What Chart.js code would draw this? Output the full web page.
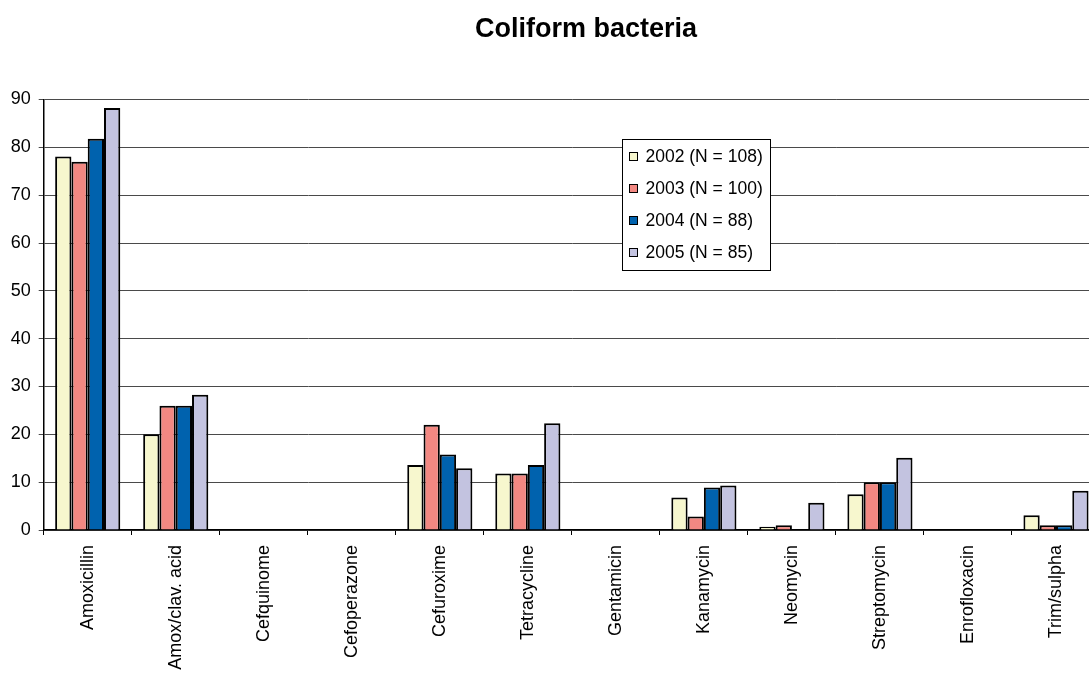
<!DOCTYPE html>
<html>
<head>
<meta charset="utf-8">
<script src="https://cdn.jsdelivr.net/npm/chart.js@4/dist/chart.umd.min.js"></script>
<style>
  html, body { margin: 0; padding: 0; overflow: hidden; background: #fff; }
  #wrap { position: relative; width: 1100px; height: 675px; }
</style>
</head>
<body>
<div id="wrap"><canvas id="c" width="1100" height="675"></canvas></div>
<script>
// Antibiotics tested
const antibiotics = ['Amoxicillin', 'Amox/clav. acid', 'Cefquinome', 'Cefoperazone', 'Cefuroxime',
  'Tetracycline', 'Gentamicin', 'Kanamycin', 'Neomycin', 'Streptomycin', 'Enrofloxacin', 'Trim/sulpha'];

// Resistance (%) per year
const res2002 = [78.1, 20.0, 0, 0, 13.6, 11.8, 0, 6.8, 0.7, 7.5, 0, 3.1];
const res2003 = [77.0, 26.0, 0, 0, 22.0, 11.8, 0, 2.8, 1.0, 10.0, 0, 1.0];
const res2004 = [81.8, 26.0, 0, 0, 15.8, 13.6, 0, 8.9, 0, 10.0, 0, 1.0];
const res2005 = [88.2, 28.3, 0, 0, 12.9, 22.3, 0, 9.3, 5.7, 15.1, 0, 8.2];

const seriesLabels = ['2002 (N = 108)', '2003 (N = 100)', '2004 (N = 88)', '2005 (N = 85)'];
const yTicks = [0, 10, 20, 30, 40, 50, 60, 70, 80, 90];

const colors = ['#F7F7CE', '#F28882', '#0062AE', '#C3C3E0'];
const FONT = '"Liberation Sans", Arial, sans-serif';

const series = [res2002, res2003, res2004, res2005];
const datasets = series.map((d, i) => ({
  label: seriesLabels[i],
  data: d,
  backgroundColor: colors[i],
  borderColor: '#000',
  borderWidth: 2,
  borderSkipped: 'start',
  categoryPercentage: 0.74,
  barPercentage: 1.0
}));

// Title and boxed legend drawn on the canvas
const decorations = {
  id: 'decorations',
  afterDatasetsDraw(chart) {
    const ctx = chart.ctx;
    ctx.save();
    // title
    ctx.fillStyle = '#000';
    ctx.font = 'bold 27px ' + FONT;
    ctx.textAlign = 'center';
    ctx.textBaseline = 'alphabetic';
    ctx.fillText('Coliform bacteria', 586, 37);

    // legend box
    const lx = 622.5, ly = 139.5, lw = 148, lh = 131;
    ctx.fillStyle = '#fff';
    ctx.fillRect(lx, ly, lw, lh);
    ctx.strokeStyle = '#000';
    ctx.lineWidth = 1;
    ctx.strokeRect(lx, ly, lw, lh);
    ctx.font = '17.5px ' + FONT;
    ctx.textAlign = 'left';
    ctx.textBaseline = 'middle';
    chart.data.datasets.forEach((ds, i) => {
      const cy = 157 + i * 32;
      ctx.fillStyle = ds.backgroundColor;
      ctx.fillRect(629.5, cy - 4.5, 8, 8);
      ctx.strokeStyle = '#000';
      ctx.strokeRect(629.5, cy - 4.5, 8, 8);
      ctx.fillStyle = '#000';
      ctx.fillText(ds.label, 645.5, cy + 0.5);
    });
    ctx.restore();
  }
};

new Chart(document.getElementById('c'), {
  type: 'bar',
  data: { labels: antibiotics, datasets },
  options: {
    responsive: false,
    animation: false,
    devicePixelRatio: 1,
    layout: { padding: { top: 99.5, right: 0, left: 0, bottom: 0 } },
    plugins: {
      legend: { display: false },
      title: { display: false },
      tooltip: { enabled: false }
    },
    scales: {
      x: {
        offset: true,
        grid: {
          offset: true,
          drawOnChartArea: false,
          drawTicks: true,
          tickLength: 5,
          color: '#000'
        },
        border: { color: '#000', width: 1.5 },
        ticks: {
          color: '#000',
          font: { family: FONT, size: 18 },
          minRotation: 90,
          maxRotation: 90,
          autoSkip: false,
          padding: 10
        },
        afterFit(s) { s.height = 145; }
      },
      y: {
        min: 0,
        max: 90,
        afterBuildTicks(s) { s.ticks = yTicks.map(v => ({ value: v })); },
        grid: {
          color: '#4a4a4a',
          lineWidth: 1,
          drawTicks: true,
          tickLength: 5
        },
        border: { color: '#000', width: 1.5 },
        ticks: {
          color: '#000',
          font: { family: FONT, size: 18 },
          padding: 8
        },
        afterFit(s) { s.width = 43.7; }
      }
    }
  },
  plugins: [decorations]
});
</script>
</body>
</html>
